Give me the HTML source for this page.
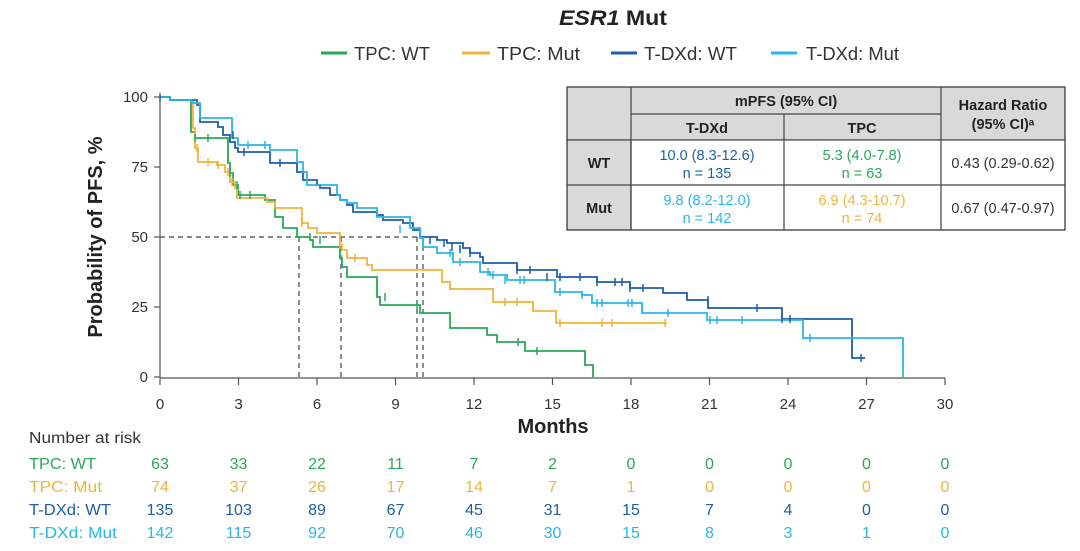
<!DOCTYPE html>
<html><head><meta charset="utf-8"><style>
html,body{margin:0;padding:0;background:#fff}
svg{display:block}
text{font-family:"Liberation Sans",sans-serif}
</style></head><body>
<svg width="1080" height="551" viewBox="0 0 1080 551" xmlns="http://www.w3.org/2000/svg">
<text x="613" y="25" text-anchor="middle" font-size="21" font-weight="bold" fill="#222" textLength="108" lengthAdjust="spacingAndGlyphs"><tspan font-style="italic">ESR1</tspan> Mut</text>
<g font-size="18" fill="#333">
<line x1="321" y1="53" x2="347" y2="53" stroke="#2aa85a" stroke-width="3"/><text x="354" y="60" textLength="76" lengthAdjust="spacingAndGlyphs">TPC: WT</text>
<line x1="462" y1="53" x2="490" y2="53" stroke="#f0b43a" stroke-width="3"/><text x="497" y="60" textLength="83" lengthAdjust="spacingAndGlyphs">TPC: Mut</text>
<line x1="611" y1="53" x2="637" y2="53" stroke="#1f5fa6" stroke-width="3"/><text x="644" y="60" textLength="93" lengthAdjust="spacingAndGlyphs">T-DXd: WT</text>
<line x1="771" y1="53" x2="797" y2="53" stroke="#2bb5e8" stroke-width="3"/><text x="806" y="60" textLength="93" lengthAdjust="spacingAndGlyphs">T-DXd: Mut</text>
</g>
<g stroke="#555" stroke-width="1.2" fill="none">
<line x1="160" y1="97" x2="160" y2="378"/>
<line x1="160" y1="378" x2="945" y2="378"/>
<line x1="154" y1="97" x2="160" y2="97"/><line x1="154" y1="167" x2="160" y2="167"/><line x1="154" y1="237" x2="160" y2="237"/><line x1="154" y1="307" x2="160" y2="307"/><line x1="154" y1="377" x2="160" y2="377"/>
<line x1="160" y1="378" x2="160" y2="385"/><line x1="238.5" y1="378" x2="238.5" y2="385"/><line x1="317" y1="378" x2="317" y2="385"/><line x1="395.5" y1="378" x2="395.5" y2="385"/><line x1="474" y1="378" x2="474" y2="385"/><line x1="552.5" y1="378" x2="552.5" y2="385"/><line x1="631" y1="378" x2="631" y2="385"/><line x1="709.5" y1="378" x2="709.5" y2="385"/><line x1="788" y1="378" x2="788" y2="385"/><line x1="866.5" y1="378" x2="866.5" y2="385"/><line x1="945" y1="378" x2="945" y2="385"/>
</g>
<g font-size="15" fill="#333" text-anchor="end">
<text x="148" y="102">100</text><text x="148" y="172">75</text><text x="148" y="242">50</text><text x="148" y="312">25</text><text x="148" y="382">0</text>
</g>
<g font-size="15" fill="#333" text-anchor="middle">
<text x="160" y="409">0</text><text x="238.5" y="409">3</text><text x="317" y="409">6</text><text x="395.5" y="409">9</text><text x="474" y="409">12</text><text x="552.5" y="409">15</text><text x="631" y="409">18</text><text x="709.5" y="409">21</text><text x="788" y="409">24</text><text x="866.5" y="409">27</text><text x="945" y="409">30</text>
</g>
<text x="553" y="433" text-anchor="middle" font-size="20" font-weight="bold" fill="#222">Months</text>
<text transform="translate(102,237) rotate(-90)" text-anchor="middle" font-size="20" font-weight="bold" fill="#222">Probability of PFS, %</text>
<g stroke="#444" stroke-width="1.2" stroke-dasharray="5,4" fill="none">
<line x1="160" y1="237" x2="423" y2="237"/>
<line x1="299" y1="237" x2="299" y2="377"/><line x1="341" y1="237" x2="341" y2="377"/><line x1="417" y1="237" x2="417" y2="377"/><line x1="423" y1="237" x2="423" y2="377"/>
</g>
<g fill="none" stroke-width="1.8">
<path stroke="#2aa85a" d="M160,97H170V100H191V112V132H195V138H228V163H230V173H233V185H238V195H265V200H275V217H283V228H297V237H310V240H313V247H340V258H342V267H347V277H377V297H380V305H420V313H450V328H487V335H497V342H525V351H585V365H593V377"/>
<path stroke="#f0b43a" d="M160,97H170V100H193V128H195V148H198V162H217V165H225V172H230V182H235V188H237V198H267V202H275V208H302V223H308V228H317V233H340V245H342V250H347V258H367V265H372V270H442V282H450V289H493V302H533V311H556V323H667"/>
<path stroke="#1f5fa6" d="M160,97H170V100H197V105H200V122H218V127H223V135H230V142H235V148H238V152H270V163H297V172H303V180H317V185H320V188H330V195H340V200H347V205H353V212H377V215H383V220H403V223H413V230H420V237H437V240H447V243H463V248H470V253H480V257H483V263H517V270H557V277H597V282H630V288H663V293H687V300H708V308H782V319H852V358H865"/>
<path stroke="#2bb5e8" d="M160,97H170V100H192V103H200V118H232V138H238V145H270V150H297V162H303V172H307V185H337V195H340V200H347V203H357V208H377V217H410V228H420V238H423V247H437V253H453V262H480V272H490V275H507V280H555V292H582V295H592V303H642V313H707V320H803V338H903V377"/>
</g>
<g stroke-width="1.5">
<g stroke="#1f5fa6"><path d="M160,93v8M233,131v8M244,148v8M280,159v8M430,236v8M444,239v8M452,243v8M460,245v8M470,249v8M517,266v8M530,266v8M547,273v8M560,273v8M580,273v8M597,278v8M615,278v8M622,278v8M630,284v8M643,284v8M708,296v8M757,304v8M782,315v8M790,315v8M861,354v8"/></g>
<g stroke="#2bb5e8"><path d="M248,141v8M265,141v8M400,225v8M450,249v8M460,258v8M488,268v8M493,271v8M505,276v8M520,276v8M524,276v8M560,288v8M582,291v8M597,299v8M602,299v8M628,299v8M632,299v8M668,309v8M710,316v8M717,316v8M742,316v8M810,334v8"/></g>
<g stroke="#f0b43a"><path d="M197,144v8M208,158v8M218,161v8M228,168v8M232,178v8M302,219v8M340,241v8M355,254v8M505,298v8M517,298v8M560,319v8M602,319v8M612,319v8M665,319v8"/></g>
<g stroke="#2aa85a"><path d="M195,134v8M208,134v8M230,169v8M237,181v8M240,191v8M250,191v8M310,233v8M320,236v8M385,293v8M417,301v8M518,338v8M537,347v8"/></g>
</g>
<g stroke="#444" stroke-width="1.2">
<rect x="567" y="87" width="498" height="53" fill="#d9d9d9"/>
<rect x="567" y="140" width="64" height="90" fill="#d9d9d9"/>
<rect x="631" y="140" width="434" height="90" fill="#fff"/>
<line x1="631" y1="87" x2="631" y2="230"/><line x1="941" y1="87" x2="941" y2="230"/>
<line x1="784" y1="114" x2="784" y2="230"/>
<line x1="631" y1="114" x2="941" y2="114"/>
<line x1="567" y1="185" x2="1065" y2="185"/>
<rect x="567" y="87" width="498" height="143" fill="none"/>
</g>
<g font-size="14.5" text-anchor="middle" fill="#222">
<text x="786" y="106" font-weight="bold">mPFS (95% CI)</text>
<text x="707" y="133" font-weight="bold">T-DXd</text>
<text x="862" y="133" font-weight="bold">TPC</text>
<text x="1003" y="110" font-weight="bold">Hazard Ratio</text>
<text x="1003" y="129" font-weight="bold">(95% CI)ᵃ</text>
<text x="599" y="168" font-weight="bold">WT</text>
<text x="599" y="213" font-weight="bold">Mut</text>
<text x="707" y="160" fill="#1f5fa6">10.0 (8.3-12.6)</text><text x="707" y="178" fill="#1f5fa6">n = 135</text>
<text x="862" y="160" fill="#2aa85a">5.3 (4.0-7.8)</text><text x="862" y="178" fill="#2aa85a">n = 63</text>
<text x="707" y="205" fill="#2bb5e8">9.8 (8.2-12.0)</text><text x="707" y="223" fill="#2bb5e8">n = 142</text>
<text x="862" y="205" fill="#f0b43a">6.9 (4.3-10.7)</text><text x="862" y="223" fill="#f0b43a">n = 74</text>
<text x="1003" y="168" fill="#333">0.43 (0.29-0.62)</text>
<text x="1003" y="213" fill="#333">0.67 (0.47-0.97)</text>
</g>
<text x="29" y="443" font-size="16" fill="#333" textLength="112" lengthAdjust="spacingAndGlyphs">Number at risk</text>
<g font-size="16">
<g fill="#2aa85a"><text x="29" y="469" textLength="67" lengthAdjust="spacingAndGlyphs">TPC: WT</text><g text-anchor="middle"><text x="160" y="469">63</text><text x="238.5" y="469">33</text><text x="317" y="469">22</text><text x="395.5" y="469">11</text><text x="474" y="469">7</text><text x="552.5" y="469">2</text><text x="631" y="469">0</text><text x="709.5" y="469">0</text><text x="788" y="469">0</text><text x="866.5" y="469">0</text><text x="945" y="469">0</text></g></g>
<g fill="#f0b43a"><text x="29" y="492" textLength="73" lengthAdjust="spacingAndGlyphs">TPC: Mut</text><g text-anchor="middle"><text x="160" y="492">74</text><text x="238.5" y="492">37</text><text x="317" y="492">26</text><text x="395.5" y="492">17</text><text x="474" y="492">14</text><text x="552.5" y="492">7</text><text x="631" y="492">1</text><text x="709.5" y="492">0</text><text x="788" y="492">0</text><text x="866.5" y="492">0</text><text x="945" y="492">0</text></g></g>
<g fill="#1f5fa6"><text x="29" y="515" textLength="82" lengthAdjust="spacingAndGlyphs">T-DXd: WT</text><g text-anchor="middle"><text x="160" y="515">135</text><text x="238.5" y="515">103</text><text x="317" y="515">89</text><text x="395.5" y="515">67</text><text x="474" y="515">45</text><text x="552.5" y="515">31</text><text x="631" y="515">15</text><text x="709.5" y="515">7</text><text x="788" y="515">4</text><text x="866.5" y="515">0</text><text x="945" y="515">0</text></g></g>
<g fill="#2bb5e8"><text x="29" y="538" textLength="88" lengthAdjust="spacingAndGlyphs">T-DXd: Mut</text><g text-anchor="middle"><text x="160" y="538">142</text><text x="238.5" y="538">115</text><text x="317" y="538">92</text><text x="395.5" y="538">70</text><text x="474" y="538">46</text><text x="552.5" y="538">30</text><text x="631" y="538">15</text><text x="709.5" y="538">8</text><text x="788" y="538">3</text><text x="866.5" y="538">1</text><text x="945" y="538">0</text></g></g>
</g>
</svg>
</body></html>
